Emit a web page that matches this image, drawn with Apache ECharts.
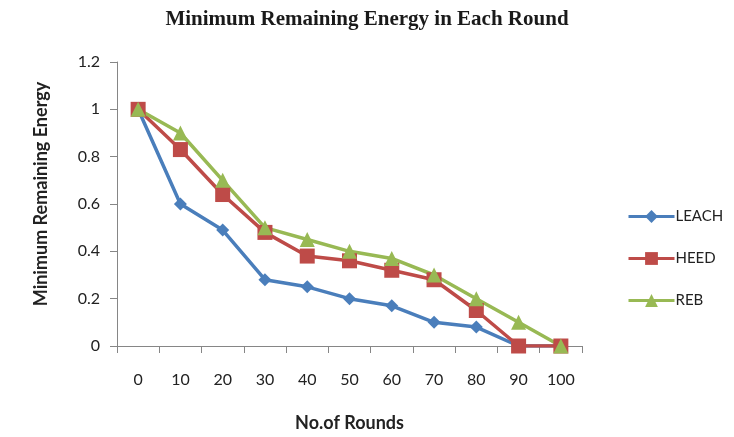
<!DOCTYPE html>
<html>
<head>
<meta charset="utf-8">
<script src="https://cdn.jsdelivr.net/npm/echarts@6/dist/echarts.min.js"></script>
<style>html,body{margin:0;padding:0;background:#fff}#c{width:734px;height:437px}</style>
</head>
<body>
<div id="c"></div>
<script>
const categories = ['0','10','20','30','40','50','60','70','80','90','100'];
const leach = [1, 0.6, 0.49, 0.28, 0.25, 0.2, 0.17, 0.1, 0.08, 0, 0];
const heed  = [1, 0.83, 0.64, 0.48, 0.38, 0.36, 0.32, 0.28, 0.15, 0, 0];
const reb   = [1, 0.9, 0.7, 0.5, 0.45, 0.4, 0.37, 0.3, 0.2, 0.1, 0];
const yTicks = [0, 0.2, 0.4, 0.6, 0.8, 1, 1.2];

const chart = echarts.init(document.getElementById('c'), null, {renderer:'canvas'});
const axisColor = '#868686';
const font = 'Lato';
const mk = (name, data, color, symbol, size) => ({
  name, type:'line', data, symbol, symbolSize:size,
  lineStyle:{color, width:3.5},
  itemStyle:{color},
  z: 2
});
chart.setOption({
  animation:false,
  backgroundColor:'#fff',
  title:{
    text:'Minimum Remaining Energy in Each Round',
    left:'center', top:4,
    textStyle:{fontFamily:'Liberation Serif', fontWeight:'bold', fontSize:21, color:'#1a1a1a'}
  },
  grid:{left:117, right:152, top:62, bottom:90, containLabel:false},
  legend:{
    orient:'vertical', left:622, top:204, itemGap:27,
    itemWidth:46, itemHeight:16,
    lineStyle:{width:3},
    textStyle:{fontFamily:font, fontSize:15, color:'#222', padding:[0,0,0,-4]},
    data:['LEACH','HEED','REB']
  },
  xAxis:{
    type:'category', data:categories, boundaryGap:true,
    name:'No.of Rounds', nameLocation:'middle', nameGap:68,
    nameTextStyle:{fontFamily:font, fontWeight:'bold', fontSize:18, color:'#222'},
    axisLine:{lineStyle:{color:axisColor, width:1}},
    axisTick:{show:true, alignWithLabel:false, length:7, lineStyle:{color:axisColor}},
    axisLabel:{margin:26, fontFamily:font, fontSize:16, color:'#222'},
    splitLine:{show:false}
  },
  yAxis:{
    type:'value', min:0, max:1.2, interval:0.2,
    name:'Minimum Remaining Energy', nameLocation:'middle', nameGap:67, nameRotate:90,
    nameTextStyle:{fontFamily:font, fontWeight:'bold', fontSize:18, color:'#222', padding:[0,0,0,20]},
    axisLine:{show:true, lineStyle:{color:axisColor, width:1}},
    axisTick:{show:true, length:7, lineStyle:{color:axisColor}},
    axisLabel:{margin:17, fontFamily:font, fontSize:16, color:'#222',
      formatter: v => { const t = yTicks.find(x => Math.abs(x - v) < 1e-9); return t === undefined ? '' : String(t); }},
    splitLine:{show:false}
  },
  series:[
    mk('LEACH', leach, '#4a7ebb', 'diamond', 13),
    mk('HEED', heed, '#be4b48', 'rect', 15),
    mk('REB', reb, '#98b954', 'triangle', 15)
  ]
});
</script>
</body>
</html>
